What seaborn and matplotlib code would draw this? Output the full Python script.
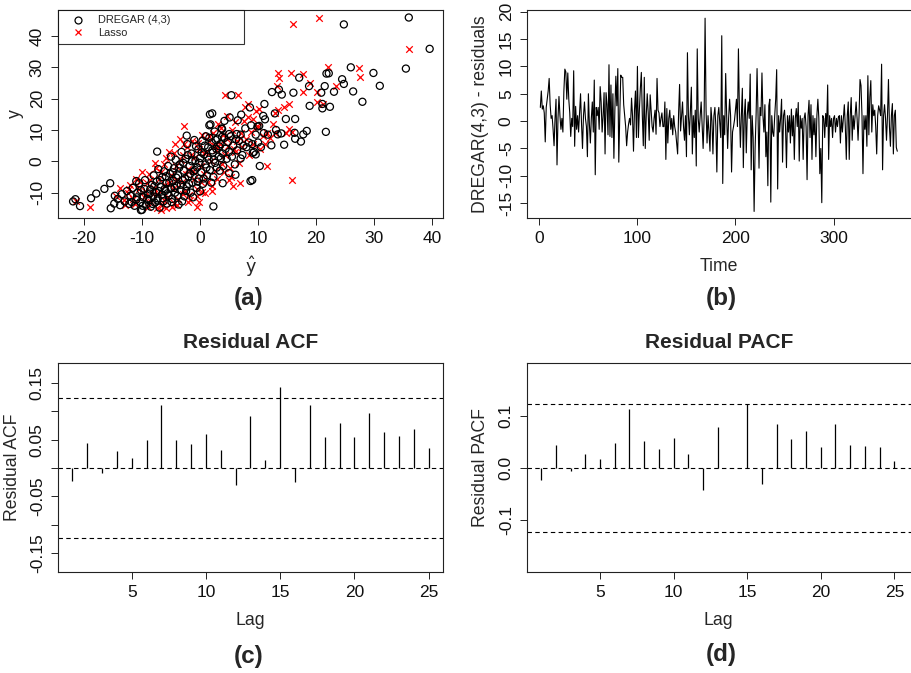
import matplotlib
matplotlib.use("Agg")
import matplotlib.pyplot as plt
from matplotlib.lines import Line2D
import seaborn as sns
import pandas as pd
import numpy as np

sns.set_theme(style="white")
plt.rcParams['font.family'] = ['Liberation Sans', 'DejaVu Sans']
plt.rcParams['axes.unicode_minus'] = False

# ---------------- data ----------------
dregar_pts = [
    (36.0, 45.9), (24.8, 43.7), (39.6, 35.9), (35.5, 29.6), (26.0, 30.0), (29.9, 28.2),
    (31.0, 24.1), (28.0, 19.0), (26.4, 22.3), (24.5, 26.2), (24.8, 24.7), (23.1, 22.2),
    (22.4, 17.4), (21.8, 28.0), (22.2, 28.1), (21.5, 24.0), (20.9, 21.9), (21.1, 18.3),
    (21.1, 16.9), (21.7, 9.4), (18.8, 24.0), (18.9, 17.7), (18.4, 9.7), (17.8, 8.6),
    (17.4, 6.3), (16.4, 7.2), (17.1, 26.7), (16.4, 13.5), (16.3, 9.1), (16.1, 21.9),
    (14.8, 13.5), (14.5, 5.3), (14.1, 21.3), (13.6, 22.9), (12.4, 22.1), (13.1, 10.0),
    (13.4, 8.6), (12.9, 15.3), (14.0, 8.9), (12.3, 5.1), (11.1, 18.3), (10.9, 14.5),
    (11.2, 13.4), (10.2, 11.3), (9.9, 11.1), (10.3, -1.5), (11.7, 8.5), (9.1, 2.7),
    (9.6, 2.2), (9.0, -6.0), (8.7, -6.3), (8.6, 17.2), (7.1, 14.9), (5.4, 21.1),
    (7.0, 0.9), (6.1, -4.3), (3.9, -7.0), (2.3, -14.4), (0.0, -9.6), (1.7, 15.0),
    (2.1, 15.3), (5.1, 14.0), (4.2, 12.9), (6.5, 13.1), (6.3, 8.7), (5.0, 8.7),
    (3.8, 10.3), (1.6, 11.5), (-2.3, 8.2), (-7.4, 3.1), (-15.5, -7.0), (-16.5, -8.8),
    (-18.8, -11.8), (-17.9, -10.3), (-20.7, -14.3), (-21.9, -12.8), (-21.5, -12.1),
    (-15.4, -15.0), (-10.2, -15.6), (-11.0, -6.3), (-14.7, -11.0),
    (-14.8, -13.5), (-14.2, -12.0), (-13.8, -14.0), (-13.5, -10.5), (-13.0, -12.8),
    (-12.6, -9.5), (-12.2, -13.6), (-12.0, -11.0), (-11.6, -8.5), (-11.3, -14.2),
    (-11.0, -12.3), (-10.8, -10.0), (-10.5, -7.0), (-10.3, -13.0), (-10.0, -15.5),
    (-9.8, -11.5), (-9.6, -8.8), (-9.5, -6.0), (-9.3, -13.8), (-9.0, -10.5),
    (-8.8, -12.5), (-8.6, -9.0), (-8.5, -14.5), (-8.3, -7.5), (-8.1, -11.2),
    (-8.0, -4.5), (-7.8, -13.2), (-7.6, -9.8), (-7.5, -6.5), (-7.3, -11.8),
    (-7.2, -2.5), (-7.0, -14.8), (-6.8, -8.2), (-6.6, -10.6), (-6.5, -5.0),
    (-6.3, -12.8), (-6.2, -3.2), (-6.0, -9.5), (-5.8, -7.0), (-5.7, -13.5),
    (-5.5, -1.5), (-5.4, -11.0), (-5.2, -4.0), (-5.0, -8.6), (-5.0, 1.5),
    (-4.8, -12.0), (-4.6, -6.2), (-4.5, -2.2), (-4.3, -10.0), (-4.2, 0.5),
    (-4.0, -7.8), (-3.8, -4.5), (-3.7, -13.8), (-3.5, -1.0), (-3.4, -9.2),
    (-3.2, 3.0), (-3.0, -6.0), (-2.8, -3.0), (-2.7, -11.2), (-2.5, 0.8),
    (-2.3, -8.0), (-2.2, 5.5), (-2.0, -4.8), (-1.8, -1.5), (-1.6, -10.0),
    (-1.5, 2.5), (-1.3, -6.8), (-1.1, -3.2), (-1.0, 6.8), (-0.8, 0.2),
    (-0.6, -8.5), (-0.5, -2.0), (-0.3, 3.8), (-0.2, -5.5), (0.0, 1.0),
    (0.2, -3.5), (0.4, 6.5), (0.5, -7.2), (0.7, 2.2), (0.9, -1.0),
    (1.0, 8.0), (1.2, -4.5), (1.4, 4.5), (1.5, 0.5), (1.7, -2.8),
    (1.8, 11.8), (2.0, 6.0), (2.2, 2.8), (2.3, -5.0), (2.5, 9.5),
    (2.6, -0.5), (2.8, 4.0), (3.0, 7.2), (3.2, 1.5), (3.4, -3.0),
    (3.5, 5.5), (3.7, 10.5), (3.9, 2.5), (4.0, -1.5), (4.2, 7.5),
    (4.4, 4.0), (4.6, 0.8), (4.8, 6.2), (5.0, -3.8), (5.0, 3.0),
    (5.3, 8.0), (5.5, 1.5), (5.7, 5.0), (6.0, -1.0), (6.2, 7.0),
    (6.4, 3.5), (6.7, 6.5), (7.0, 8.5), (7.3, 2.0), (7.5, 5.0),
    (7.8, 10.5), (8.0, 4.5), (8.4, 6.0), (8.8, 11.5), (9.0, 5.5),
    (9.3, 3.0), (9.6, 8.5), (10.0, 6.0), (10.5, 4.5), (11.0, 9.0),
    (-11.8, -13.0), (-10.9, -11.5), (-10.2, -9.2), (-9.9, -14.2), (-9.1, -12.0),
    (-8.7, -10.3), (-8.2, -13.6), (-7.9, -8.0), (-7.4, -12.5), (-7.1, -9.5),
    (-6.9, -6.0), (-6.4, -11.8), (-6.1, -8.8), (-5.9, -4.8), (-5.6, -10.2),
    (-5.3, -6.8), (-4.9, -13.0), (-4.7, -3.5), (-4.4, -8.5), (-4.1, -5.2),
    (-3.9, -11.0), (-3.6, -2.0), (-3.3, -7.5), (-3.1, -12.8), (-2.9, -0.5),
    (-2.6, -5.5), (-2.4, -9.5), (-2.1, 2.0), (-1.9, -7.2), (-1.7, -4.0),
    (-1.4, 0.0), (-1.2, -11.5), (-0.9, -2.8), (-0.7, 4.8), (-0.4, -6.5),
    (-0.1, -0.5), (0.3, 2.8), (0.6, -5.5), (0.8, 5.0), (1.1, -2.0),
    (1.3, 1.5), (1.6, 7.5), (1.9, -6.8), (2.1, 3.5), (2.4, 0.5),
    (2.7, 6.8), (2.9, -2.0), (3.3, 4.8), (3.6, 1.0), (3.8, 7.8),
]
lasso_pts = [
    (20.5, 45.9), (16.1, 43.7), (36.1, 35.9), (22.1, 30.0), (27.4, 29.7), (27.5, 26.8),
    (13.5, 28.3), (15.6, 28.1), (17.8, 27.9), (13.6, 26.5), (18.9, 24.9), (23.4, 24.1),
    (17.8, 22.0), (20.1, 22.1), (20.2, 19.0), (21.2, 18.2), (15.3, 18.4), (14.4, 17.2),
    (12.9, 15.3), (13.2, 24.0), (15.3, 10.3), (14.8, 8.9), (15.9, 9.5), (15.9, -6.1),
    (11.5, -1.4), (6.6, 21.2), (4.3, 21.1), (7.8, 17.4), (10.2, 16.8), (8.2, 18.3),
    (8.3, 14.0), (9.2, 13.6), (9.9, 11.3), (-2.7, 11.4), (6.9, -6.8), (5.6, -8.0),
    (5.0, -5.9), (2.0, -9.5), (0.4, -9.9), (-19.0, -14.5), (-21.4, -12.6), (-6.8, -15.7),
    (-2.1, -13.0), (-0.6, -14.5), (-0.1, -12.9), (-4.5, -13.3), (-5.8, -15.0),
    (-14.5, -11.0), (-13.8, -8.5), (-13.2, -12.5), (-12.5, -10.0), (-12.0, -7.5),
    (-11.5, -12.0), (-11.0, -5.5), (-10.6, -9.0), (-10.0, -3.5), (-9.7, -11.5),
    (-9.2, -7.0), (-8.8, -4.0), (-8.4, -13.0), (-8.0, -8.5), (-7.6, -2.0),
    (-7.3, -10.5), (-7.0, -5.5), (-6.6, -13.8), (-6.3, -1.0), (-6.0, -7.5),
    (-5.6, -11.5), (-5.3, 3.0), (-5.0, -4.5), (-4.7, -9.0), (-4.4, 5.5),
    (-4.1, -1.5), (-3.8, -12.0), (-3.5, 7.0), (-3.2, -6.5), (-2.9, 2.0),
    (-2.6, -9.5), (-2.3, 4.5), (-2.0, -2.5), (-1.7, -12.2), (-1.4, 6.5),
    (-1.1, -5.5), (-0.8, 1.5), (-0.5, -8.8), (-0.2, 4.0), (0.1, -1.5),
    (0.4, 8.5), (0.7, -4.0), (1.0, 3.0), (1.3, -6.5), (1.6, 6.5),
    (1.9, 0.0), (2.2, 9.0), (2.5, -3.0), (2.8, 3.5), (3.1, 12.0),
    (3.4, 5.5), (3.7, -1.0), (4.0, 8.5), (4.3, 2.0), (4.6, 14.5),
    (4.9, 5.0), (5.2, -2.0), (5.5, 10.0), (5.8, 4.0), (6.1, 12.5),
    (6.4, 6.5), (6.7, -0.5), (7.0, 9.0), (7.3, 4.5), (7.6, 13.0),
    (8.0, 7.0), (8.4, 2.0), (8.8, 9.5), (9.2, 5.5), (9.6, 16.0),
    (10.0, 11.0), (10.4, 4.0), (10.8, 8.0), (11.2, 5.5), (11.6, 9.0),
    (12.0, 7.5), (12.5, 12.0), (13.0, 9.0), (13.5, 16.5),
    (-13.0, -14.0), (-12.2, -9.0), (-11.3, -13.5), (-10.4, -6.5), (-9.5, -9.5),
    (-9.0, -14.5), (-8.6, -6.0), (-8.2, -10.5), (-7.8, -0.5), (-7.4, -14.8),
    (-6.8, -3.5), (-6.2, -12.5), (-5.8, 1.0), (-5.4, -7.0), (-4.9, -14.5),
    (-4.5, 2.5), (-4.2, -6.0), (-3.9, -14.0), (-3.3, 0.5), (-3.0, -10.5),
    (-2.7, 5.5), (-2.4, -4.0), (-1.9, -10.8), (-1.5, 2.0), (-1.2, -3.0),
    (-0.6, -11.0), (-0.3, 6.0), (0.2, -6.5), (0.6, 2.5), (0.9, -10.0),
    (1.5, 8.0), (2.0, -8.0), (2.6, 5.0), (3.0, -5.5), (3.6, 10.5),
    (4.1, -3.5), (4.7, 7.0), (5.4, -5.0), (6.0, 3.0), (6.9, 7.5),
]

residuals = [
    2.5, 5.5, 2.2, 2.8, 1.5, -3.8, 2.5, 4.0, 5.5, 7.8,
    3.0, 0.5, 1.0, -1.5, -4.5, 0.5, 4.0, -8.0, 0.5, 4.5,
    1.0, -1.5, 0.5, -2.0, 5.5, 9.5, 9.0, 4.0, 8.8, 4.0,
    1.5, -2.8, 0.5, -1.0, 9.2, -4.6, 2.7, -1.5, 1.0, -2.0,
    1.5, 5.0, -0.5, -5.0, 1.0, 3.5, 0.5, -1.0, -6.5, 5.0,
    -0.5, -4.0, 0.5, 3.5, -2.0, 7.5, -9.8, 2.5, 1.0, 2.5,
    -1.5, 6.3, 3.5, -2.0, 1.0, 5.2, -6.0, 5.2, 3.0, -2.5,
    10.3, -2.8, 6.6, -3.0, 5.0, -6.8, 2.0, 8.2, 2.8, 9.6,
    -7.5, 1.0, 8.4, 8.0, 8.0, 3.0, 1.0, -1.0, -4.5, -2.0,
    -0.5, 0.5, -0.7, 4.2, 1.0, -5.5, 2.0, 5.5, -3.0, 10.0,
    -3.0, 2.0, 6.0, 8.9, 1.0, -4.5, 8.0, -5.0, 1.0, 5.0,
    1.5, -3.5, 4.8, 2.0, -1.0, -2.0, 0.5, 2.0, -2.4, 7.8,
    2.0, 1.5, -1.0, 0.5, 1.5, -1.0, -1.0, 3.5, -7.0, 2.3,
    -4.0, 0.5, 2.0, -1.5, 0.5, -2.5, 1.0, -1.0, -2.0, -4.0,
    -6.0, 1.5, 6.7, -1.8, 1.0, 3.5, -1.0, -3.5, 1.0, -6.5,
    12.5, 1.0, -2.5, 2.0, 6.2, -6.0, 1.0, -3.0, 2.0, -8.2,
    13.2, 0.5, -2.0, 1.0, 3.5, -1.0, -5.0, 0.5, 18.8, 2.0,
    -4.0, 1.0, -2.0, -5.5, 2.5, 0.0, -6.0, 1.0, 2.5, -1.0,
    -9.3, 1.0, 2.5, -0.5, -3.0, 15.6, -11.4, 1.0, -2.5, 8.7,
    1.0, -5.0, 0.5, 4.0, 1.0, -9.3, -2.0, -1.0, 0.2, 2.0,
    4.0, -1.0, 13.2, 2.0, -4.8, 1.0, 6.0, -8.5, 1.0, 4.0,
    -5.8, 1.0, 3.5, 0.5, 8.6, -8.9, 1.0, -3.0, -16.5, -5.0,
    1.0, 9.6, 1.0, -8.6, 2.5, 1.0, 8.8, 1.0, -2.0, 3.0,
    -6.5, -2.0, -11.8, 2.8, 4.0, -14.8, 1.0, -2.0, -2.8, 1.0,
    4.0, 9.4, -12.4, 1.0, -2.0, 0.5, 4.0, -7.5, 1.0, 2.0,
    -1.0, -8.5, 1.0, -2.0, 1.0, -4.0, 2.2, -2.7, 1.0, -7.0,
    0.5, 2.3, -1.0, 3.4, -7.3, 1.0, -1.3, 0.5, -7.0, 0.5,
    1.5, -1.0, -10.7, 1.0, 3.8, -3.0, 3.0, -7.0, 1.0, -2.5,
    0.5, -6.5, 1.0, 4.0, 0.5, -9.6, -5.0, -14.9, 1.0, 0.5,
    -3.0, 1.4, -1.0, 6.6, -7.0, 1.0, -1.0, 0.5, -3.0, 0.5,
    1.0, -2.0, 0.5, -1.0, 0.8, 1.0, -4.0, 1.0, -2.0, 0.5,
    3.0, -1.0, -7.0, 1.0, 3.5, -7.0, 1.0, 4.3, -3.5, 1.0,
    -1.5, 1.0, 3.5, 0.5, -3.5, 1.0, 7.6, 6.5, 1.0, -9.6,
    1.0, -1.5, 1.0, -4.6, 8.3, -2.5, 4.4, 7.4, -2.0, 3.0,
    1.0, 2.0, -1.0, -6.0, 1.0, 2.8, 2.0, 1.0, 10.4, -8.9,
    1.0, 3.0, 0.5, -3.5, 1.0, 7.6, -1.0, -4.6, 1.0, 3.2,
    -6.0, 1.0, 2.0, -4.8, -5.5,
]
time_index = list(range(1, len(residuals) + 1))

lags = list(range(1, 26))
acf_vals = [-0.023, 0.044, -0.009, 0.029, 0.017, 0.049, 0.111, 0.050, 0.042, 0.059,
            0.032, -0.030, 0.092, 0.014, 0.142, -0.025, 0.111, 0.054, 0.079, 0.055,
            0.096, 0.063, 0.056, 0.068, 0.036]
pacf_vals = [-0.023, 0.045, -0.005, 0.028, 0.019, 0.048, 0.115, 0.053, 0.037, 0.059,
             0.028, -0.041, 0.079, 0.0, 0.124, -0.030, 0.086, 0.056, 0.072, 0.042,
             0.085, 0.045, 0.043, 0.041, 0.014]
conf_bound = 0.123

# ---------------- figure ----------------
W, H = 911, 673
fig = plt.figure(figsize=(W / 100, H / 100), dpi=100)

def px_axes(l, t, r, b):
    return fig.add_axes([l / W, 1 - b / H, (r - l) / W, (b - t) / H])

TICK_FS = 12.5
LAB_FS = 12.7
PANEL_FS = 17.5
TITLE_FS = 15
spine_c = '#222222'

def style(ax):
    for s in ax.spines.values():
        s.set_color(spine_c)
        s.set_linewidth(0.8)
        s.set_visible(True)
    ax.tick_params(axis='both', which='both', direction='out', length=5, width=0.7,
                   color=spine_c, labelsize=TICK_FS, pad=4.5, labelcolor='#111111',
                   bottom=True, left=True)
    ax.tick_params(axis='y', labelrotation=90)
    ax.grid(False)
    ax.set_facecolor('white')

def labels(ax, xl, yl, xy_x, xy_y):
    ax.set_xlabel(xl, fontsize=LAB_FS)
    ax.set_ylabel(yl, fontsize=LAB_FS)
    ax.xaxis.set_label_coords(*xy_x)
    ax.yaxis.set_label_coords(*xy_y)
    ax.xaxis.label.set_va('center')
    ax.yaxis.label.set_va('center')

# (a) scatter
axA = px_axes(58, 10, 443, 218)
dfd = pd.DataFrame(dregar_pts, columns=['yhat', 'y'])
dfl = pd.DataFrame(lasso_pts, columns=['yhat', 'y'])
sns.scatterplot(data=dfd, x='yhat', y='y', ax=axA, marker='o', s=26,
                facecolors='none', edgecolor='black', linewidth=0.9, zorder=3)
sns.scatterplot(data=dfl, x='yhat', y='y', ax=axA, marker='x', s=22,
                color='red', linewidth=0.9, zorder=2)
axA.set_xlim(-24.5, 41.9)
axA.set_ylim(-18.1, 48.3)
axA.set_xticks([-20, -10, 0, 10, 20, 30, 40])
axA.set_yticks([-10, 0, 10, 20, 30, 40])
style(axA)
labels(axA, r'$\hat{\mathrm{y}}$', 'y', (0.5, -0.235), (-0.11, 0.5))
handles = [Line2D([], [], ls='none', marker='o', mfc='none', mec='black', ms=5, mew=0.9),
           Line2D([], [], ls='none', marker='x', color='red', ms=5, mew=0.9)]
leg = axA.legend(handles, ['DREGAR (4,3)', 'Lasso'], loc='upper left',
                 bbox_to_anchor=(0, 1, 0.483, 0), mode='expand', borderaxespad=0,
                 fontsize=7.9, frameon=True, fancybox=False, handlelength=2.65,
                 handletextpad=0.5, labelspacing=0.25, borderpad=0.5)
leg.get_frame().set_edgecolor('black')
leg.get_frame().set_linewidth(0.8)
fig.text(249 / W, 1 - 298 / H, '(a)', ha='center', va='center',
         fontsize=PANEL_FS, fontweight='bold')

# (b) residual series
axB = px_axes(527, 10, 912, 218)
dfr = pd.DataFrame({'Time': time_index, 'res': residuals})
sns.lineplot(data=dfr, x='Time', y='res', ax=axB, color='black', linewidth=0.8)
axB.set_xlim(-12.6, 380)
axB.set_ylim(-17.7, 20.3)
axB.set_xticks([0, 100, 200, 300])
axB.set_yticks([-15, -10, -5, 0, 5, 10, 15, 20])
style(axB)
labels(axB, 'Time', 'DREGAR(4,3) - residuals', (0.497, -0.235), (-0.12, 0.5))
fig.text(721 / W, 1 - 298 / H, '(b)', ha='center', va='center',
         fontsize=PANEL_FS, fontweight='bold')

# (c) ACF
axC = px_axes(58, 363, 443, 572)
dfa = pd.DataFrame({'Lag': lags, 'acf': acf_vals})
axC.vlines(dfa['Lag'], 0, dfa['acf'], color='black', linewidth=0.9)
for yv in (conf_bound, 0.0, -conf_bound):
    axC.axhline(yv, color='black', linewidth=0.8, linestyle=(0, (4, 3)))
axC.set_xlim(0.04, 25.96)
axC.set_ylim(-0.1835, 0.185)
axC.set_xticks([5, 10, 15, 20, 25])
axC.set_yticks([-0.15, -0.10, -0.05, 0.0, 0.05, 0.10, 0.15])
axC.set_yticklabels(['-0.15', '', '-0.05', '', '0.05', '', '0.15'])
style(axC)
labels(axC, 'Lag', 'Residual ACF', (0.5, -0.23), (-0.117, 0.5))
axC.set_title('Residual ACF', fontsize=TITLE_FS, fontweight='bold', pad=11)
fig.text(249 / W, 1 - 657 / H, '(c)', ha='center', va='center',
         fontsize=PANEL_FS, fontweight='bold')

# (d) PACF
axD = px_axes(527, 363, 912, 572)
dfp = pd.DataFrame({'Lag': lags, 'pacf': pacf_vals})
axD.vlines(dfp['Lag'], 0, dfp['pacf'], color='black', linewidth=0.9)
for yv in (conf_bound, 0.0, -conf_bound):
    axD.axhline(yv, color='black', linewidth=0.8, linestyle=(0, (4, 3)))
axD.set_xlim(0.04, 26.2)
axD.set_ylim(-0.199, 0.2025)
axD.set_xticks([5, 10, 15, 20, 25])
axD.set_yticks([-0.1, 0.0, 0.1])
axD.set_yticklabels(['-0.1', '0.0', '0.1'])
style(axD)
labels(axD, 'Lag', 'Residual PACF', (0.497, -0.23), (-0.12, 0.5))
axD.set_title('Residual PACF', fontsize=TITLE_FS, fontweight='bold', pad=11)
fig.text(721 / W, 1 - 655 / H, '(d)', ha='center', va='center',
         fontsize=PANEL_FS, fontweight='bold')

for ax in (axA, axB, axC, axD):
    for lab in ax.get_yticklabels():
        lab.set_va('center')

fig.savefig('out.png', dpi=100, facecolor='white')
